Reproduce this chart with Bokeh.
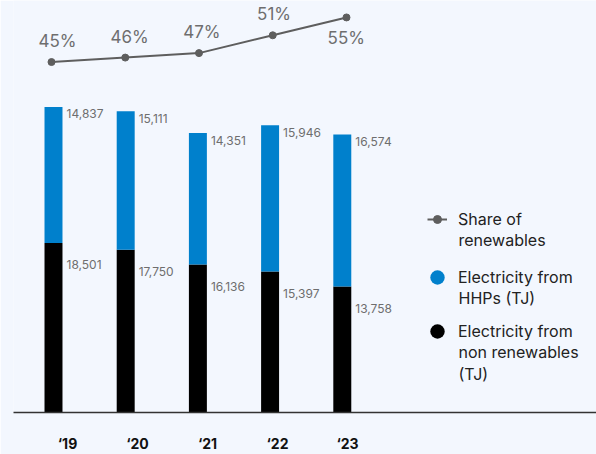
from bokeh.plotting import figure
from bokeh.models import (ColumnDataSource, Range1d, LinearAxis, FixedTicker,
                          Legend, LegendItem, Label)
from bokeh.core.properties import value
from bokeh.embed import file_html
from bokeh.resources import INLINE

# ---- data ----
years = ["\u201819", "\u201820", "\u201821", "\u201822", "\u201823"]
non_renewables = [18501, 17750, 16136, 15397, 13758]
hhps = [14837, 15111, 14351, 15946, 16574]
share_renewables = [45, 46, 47, 51, 55]

# ---- styles ----
BG = "#F3F7FE"
BLUE = "#0080CC"
BLACK = "#000000"
GRAY_LINE = "#5E5E5E"
GRAY_TEXT = "#6E6E6E"
LEG_TEXT = "#222222"
FONT = "Inter"
pct_label_dy = [-21, -21, -21, -21, 21]
NAN = float("nan")

idx = list(range(len(years)))
src = ColumnDataSource(dict(
    x=idx,
    non=non_renewables,
    hhp=hhps,
    top=[a + b for a, b in zip(non_renewables, hhps)],
    non_lbl=[f"{v:,}" for v in non_renewables],
    hhp_lbl=[f"{v:,}" for v in hhps],
    share=share_renewables,
    share_lbl=[f"{v}%" for v in share_renewables],
    pct_dy=pct_label_dy,
))

p = figure(width=596, height=454, output_backend="svg", toolbar_location=None,
           x_range=Range1d(-0.554, 7.521), y_range=Range1d(0, 44955),
           min_border_left=13, min_border_right=0, min_border_top=0,
           min_border_bottom=41)
p.extra_x_ranges = {"line": Range1d(-0.5153, 7.390), "lab": Range1d(-0.7714, 7.557)}
p.extra_y_ranges = {"pct": Range1d(-33.59, 58.80)}

p.background_fill_color = BG
p.border_fill_color = BG
p.outline_line_color = None
p.grid.visible = False
p.xaxis.visible = False
p.yaxis.visible = False

# bars
p.vbar(x="x", bottom=0, top="non", width=0.249, source=src,
       fill_color=BLACK, line_color=None)
p.vbar(x="x", bottom="non", top="top", width=0.249, source=src,
       fill_color=BLUE, line_color=None)

# value labels
p.text(x="x", y="top", text="hhp_lbl", source=src, x_offset=13, y_offset=7,
       text_align="left", text_baseline="middle", text_font=value(FONT),
       text_font_size="12px", text_color=GRAY_TEXT)
p.text(x="x", y="non", text="non_lbl", source=src, x_offset=13, y_offset=22,
       text_align="left", text_baseline="middle", text_font=value(FONT),
       text_font_size="12px", text_color=GRAY_TEXT)

# share line
ln = p.line(x="x", y="share", source=src, x_range_name="line", y_range_name="pct",
            line_color=GRAY_LINE, line_width=2)
pts = p.scatter(x="x", y="share", source=src, x_range_name="line", y_range_name="pct",
                size=7, fill_color=GRAY_LINE, line_color=GRAY_LINE)
p.text(x="x", y="share", text="share_lbl", source=src, y_range_name="pct",
       x_offset=4, y_offset="pct_dy", text_align="center", text_baseline="middle",
       text_font=value(FONT), text_font_size="17px", text_color=GRAY_TEXT)

# x axis (category labels)
ax = LinearAxis(x_range_name="lab", ticker=FixedTicker(ticks=idx),
                major_label_overrides={i: y for i, y in zip(idx, years)})
ax.axis_line_color = "#333333"
ax.axis_line_width = 1.5
ax.major_tick_line_color = None
ax.minor_tick_line_color = None
ax.major_label_standoff = 16
ax.major_label_text_font = FONT
ax.major_label_text_font_style = "bold"
ax.major_label_text_font_size = "14px"
ax.major_label_text_color = "#111111"
p.add_layout(ax, "below")

# legend glyph renderers (NaN position: only drawn inside the legend)
dummy_b = p.scatter(x=[NAN], y=[NAN], size=15, fill_color=BLUE, line_color=None)
dummy_k = p.scatter(x=[NAN], y=[NAN], size=15, fill_color=BLACK, line_color=None)
dl = p.line(x=[NAN, NAN], y=[NAN, NAN], line_color=GRAY_LINE, line_width=2)
dp = p.scatter(x=[NAN], y=[NAN], size=6, fill_color=GRAY_LINE, line_color=GRAY_LINE)

common = dict(padding=0, margin=0, border_line_alpha=0, background_fill_alpha=0,
              label_text_font=FONT, label_text_font_size="16px",
              label_text_color=LEG_TEXT, label_height=22)
leg1 = Legend(items=[LegendItem(label="Share of", renderers=[dl, dp])],
              location=(414, 182), glyph_width=20, glyph_height=20,
              label_standoff=11, **common)
leg2 = Legend(items=[LegendItem(label="Electricity from", renderers=[dummy_b]),
                     LegendItem(label="Electricity from", renderers=[dummy_k])],
              location=(406, 63), glyph_width=36, glyph_height=36,
              label_standoff=3, spacing=18, **common)
p.add_layout(leg1)
p.add_layout(leg2)

# continuation lines of the legend labels
for txt, yy in [("renewables", 173), ("HHPs (TJ)", 115),
                ("non renewables", 61), ("(TJ)", 39)]:
    p.add_layout(Label(x=445, y=yy, x_units="screen", y_units="screen", text=txt,
                       text_font=FONT, text_font_size="16px", text_color=LEG_TEXT,
                       text_baseline="middle", text_align="left"))

open("out.html", "w").write(file_html(p, INLINE))
